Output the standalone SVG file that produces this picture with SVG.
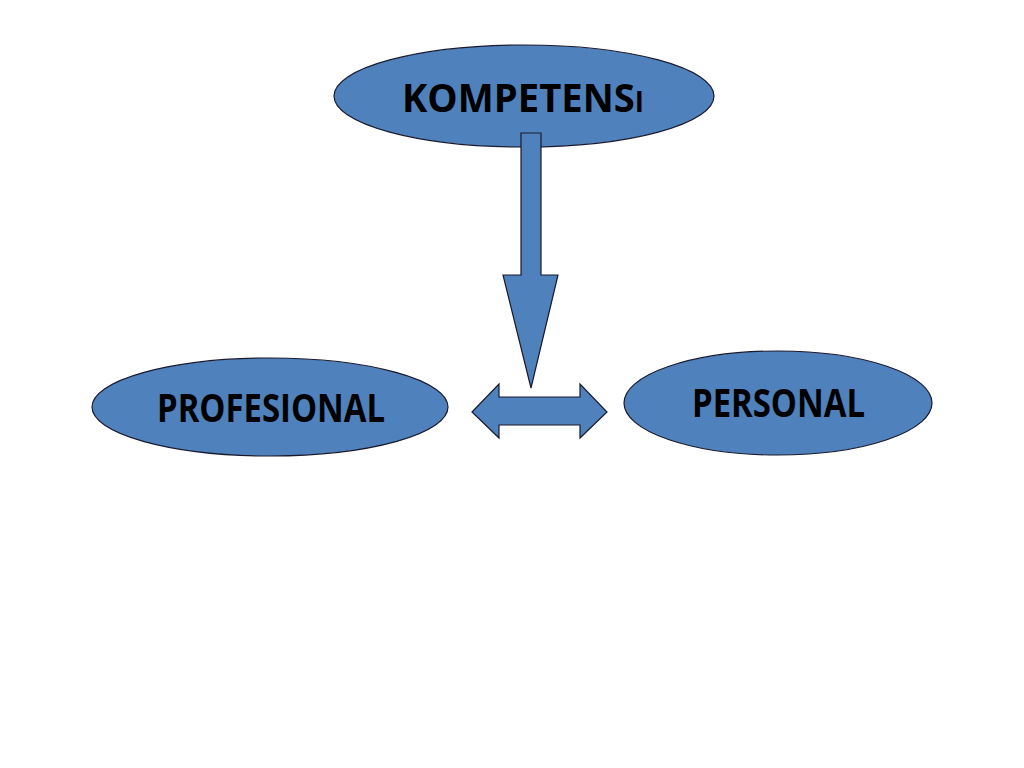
<svg xmlns="http://www.w3.org/2000/svg" width="1024" height="768" viewBox="0 0 1024 768">
<style>
.node{fill:#4F81BD;stroke:#1a1a2e;stroke-width:1.2}
.lbl{font-family:"Open Sans","Liberation Sans",sans-serif;font-weight:bold;font-size:40px;fill:#000}
.conn{fill:#4F81BD;stroke:#1a1a2e;stroke-width:1.2;stroke-linejoin:miter}
</style>
<rect width="1024" height="768" fill="#fff"/>
<g id="kompetensi">
<ellipse class="node" cx="524" cy="96" rx="190" ry="51"/>
<text class="lbl" transform="translate(402,112) scale(0.955,1)" x="0" y="0">KOMPETENS<tspan style="font-size:29px">I</tspan></text>
</g>
<g id="profesional">
<ellipse class="node" cx="270" cy="407" rx="178" ry="49"/>
<text class="lbl" x="157" y="422" textLength="228" lengthAdjust="spacingAndGlyphs">PROFESIONAL</text>
</g>
<g id="personal">
<ellipse class="node" cx="778" cy="403" rx="154" ry="52"/>
<text class="lbl" x="692" y="417" textLength="173" lengthAdjust="spacingAndGlyphs">PERSONAL</text>
</g>
<g id="connectors">
<path class="conn" d="M521,133 L541,133 L541,275 L558,275 L531,388 L503,275 L521,275 Z"/>
<path class="conn" d="M472,412 L499,384 L499,397 L580,397 L580,384 L607,412 L580,438 L580,425 L499,425 L499,438 Z"/>
</g>
</svg>
